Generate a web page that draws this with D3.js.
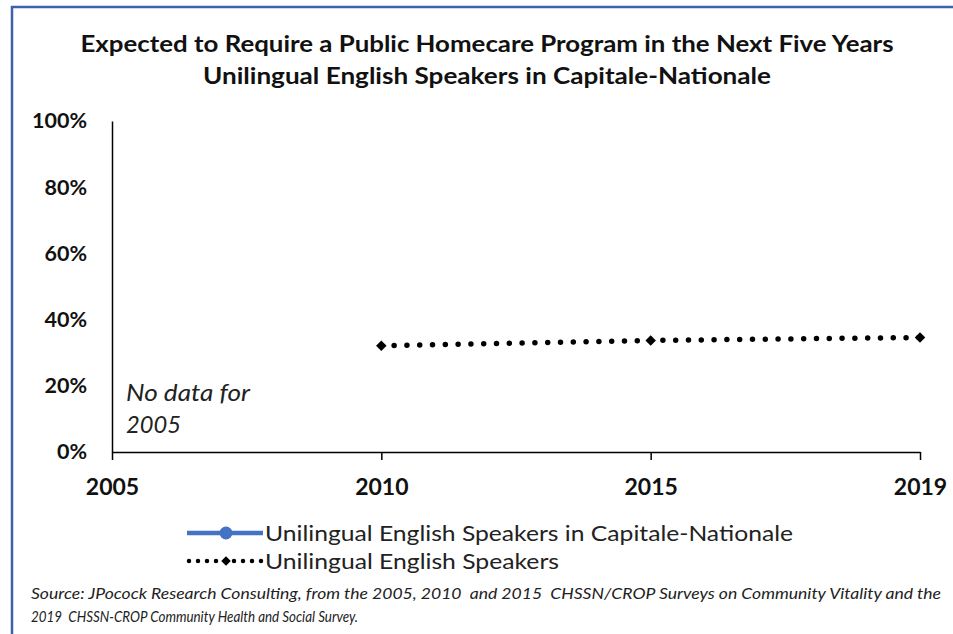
<!DOCTYPE html>
<html><head><meta charset="utf-8">
<script src="https://cdn.jsdelivr.net/npm/d3@7"></script>
<style>
body{margin:0;background:#fff;}
text{font-family:Lato, "Open Sans", sans-serif;}
</style></head>
<body><svg id="c" width="953" height="634"></svg>
<script>
const categories = ["2005","2010","2015","2019"];
const capitaleValues = [null,null,null,null];
const englishValues = [null,32.1,33.7,34.6];
const yTicks = [0,20,40,60,80,100];
const titleLines = ["Expected to Require a Public Homecare Program in the Next Five Years","Unilingual English Speakers in Capitale-Nationale"];
const seriesNames = ["Unilingual English Speakers in Capitale-Nationale","Unilingual English Speakers"];
const noteLines = ["No data for","2005"];
const sourceLines = ["Source: JPocock Research Consulting, from the 2005, 2010  and 2015  CHSSN/CROP Surveys on Community Vitality and the","2019  CHSSN-CROP Community Health and Social Survey."];

const titleWidths = [813,568];
const legendWidths = [528,294];
const noteWidths = [124,55];
const sourceWidths = [910,327];

const svg = d3.select("#c");
svg.append("rect").attr("x",12).attr("y",7).attr("width",1000).attr("height",700)
  .attr("fill","none").attr("stroke","#3c62aa").attr("stroke-width",2.5);

const x = d3.scalePoint().domain(categories).range([112,920]);
const y = d3.scaleLinear().domain([0,100]).range([452,121]);

svg.selectAll(".title").data(titleLines).join("text")
  .attr("x",487).attr("y",(d,i)=>52+i*32).attr("text-anchor","middle")
  .attr("font-size",23.5).attr("font-weight","bold").attr("fill","#111")
  .attr("textLength",(d,i)=>titleWidths[i]).attr("lengthAdjust","spacingAndGlyphs").text(d=>d);

// y axis
const ya = svg.append("g").attr("transform","translate(112,0)")
  .call(d3.axisLeft(y).tickValues(yTicks).tickFormat(d=>d+"%").tickSize(0).tickPadding(25));
ya.select(".domain").attr("stroke","#000").attr("stroke-width",1.5);
ya.selectAll("text").attr("font-size",21.5).attr("font-weight","bold").attr("fill","#111").attr("font-family","Lato");

// x axis
const xa = svg.append("g").attr("transform","translate(0,452)")
  .call(d3.axisBottom(x).tickSize(8).tickSizeOuter(0).tickPadding(19));
xa.select(".domain").attr("stroke","#000").attr("stroke-width",1.5);
xa.selectAll("line").attr("stroke","#000").attr("stroke-width",1.5);
xa.selectAll("text").attr("font-size",23).attr("font-weight","bold").attr("fill","#111").attr("font-family","Lato");

// series
const line = d3.line().defined(d=>d[1]!=null).x(d=>x(d[0])).y(d=>y(d[1]));
const capData = categories.map((c,i)=>[c,capitaleValues[i]]);
const engData = categories.map((c,i)=>[c,englishValues[i]]);
svg.append("path").datum(capData).attr("d",line).attr("fill","none").attr("stroke","#4472c4").attr("stroke-width",4);
svg.append("path").datum(engData).attr("d",line).attr("fill","none").attr("stroke","#000")
  .attr("stroke-width",5.5).attr("stroke-linecap","round").attr("stroke-dasharray","0 12.8");
svg.selectAll(".dm").data(engData.filter(d=>d[1]!=null)).join("path")
  .attr("d",d3.symbol().type(d3.symbolSquare).size(55))
  .attr("transform",d=>`translate(${x(d[0])},${y(d[1])}) rotate(45)`)
  .attr("fill","#000");

// note
svg.selectAll(".note").data(noteLines).join("text")
  .attr("x",126).attr("y",(d,i)=>401+i*32).attr("font-size",22.5).attr("font-style","italic").attr("fill","#222")
  .attr("textLength",(d,i)=>noteWidths[i]).attr("lengthAdjust","spacingAndGlyphs").text(d=>d);

// legend
const lg = svg.append("g");
lg.append("line").attr("x1",187).attr("x2",263).attr("y1",533).attr("y2",533).attr("stroke","#4472c4").attr("stroke-width",4.5);
lg.append("circle").attr("cx",226).attr("cy",533).attr("r",6.5).attr("fill","#4472c4");
lg.append("line").attr("x1",189).attr("x2",262).attr("y1",561).attr("y2",561).attr("stroke","#000")
  .attr("stroke-width",4.5).attr("stroke-linecap","round").attr("stroke-dasharray","0 9");
lg.append("path").attr("d",d3.symbol().type(d3.symbolSquare).size(45)).attr("transform","translate(226,561) rotate(45)").attr("fill","#000");
lg.selectAll(".lt").data(seriesNames).join("text")
  .attr("x",265).attr("y",(d,i)=>541+i*28).attr("font-size",22).attr("fill","#222")
  .attr("textLength",(d,i)=>legendWidths[i]).attr("lengthAdjust","spacingAndGlyphs").text(d=>d);

// source
svg.selectAll(".src").data(sourceLines).join("text")
  .attr("x",31).attr("y",(d,i)=>599+i*23).attr("font-size",15.5).attr("font-style","italic").attr("fill","#222")
  .attr("textLength",(d,i)=>sourceWidths[i]).attr("lengthAdjust","spacingAndGlyphs")
  .style("white-space","pre").text(d=>d);
</script></body></html>
